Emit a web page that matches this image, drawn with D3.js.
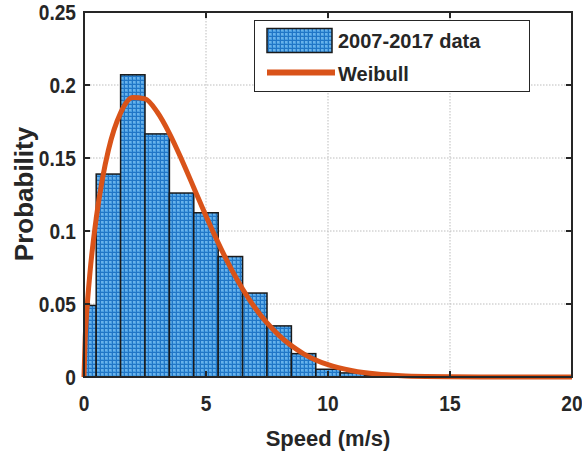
<!DOCTYPE html>
<html><head><meta charset="utf-8">
<script src="https://cdn.jsdelivr.net/npm/d3@7"></script>
<style>body{margin:0;background:#fff}svg{display:block}text{font-family:"Liberation Sans",Arial,sans-serif;font-weight:bold;fill:#262626}</style>
</head><body>
<svg id="c" width="582" height="457"></svg>
<script>
// histogram: bin centers (m/s) and probabilities
const binCenters = [0,1,2,3,4,5,6,7,8,9,10,11,12,13,14,15];
const binProb = [0.049,0.139,0.207,0.1665,0.126,0.1125,0.0825,0.0575,0.035,0.016,0.0053,0.0028,0.001,0.0004,0.0002,0.0001];
// Weibull curve points
const curveX = [0,0.05,0.1,0.25,0.5,0.75,1,1.5,2,2.5,3,3.5,4,4.5,5,5.5,6,6.5,7,7.5,8,9,10,11,12,13,14,15,17,20];
const curveY = [0,0.027,0.0414,0.0724,0.1086,0.1353,0.1554,0.1809,0.1914,0.1905,0.1815,0.1669,0.149,0.1297,0.1103,0.0919,0.0751,0.0603,0.0476,0.037,0.0283,0.0159,0.0084,0.0043,0.002,0.0009,0.0004,0.0002,0.00003,0];
const xTicks = [0,5,10,15,20];
const yTicks = [0,0.05,0.1,0.15,0.2,0.25];
const yTickLabels = ["0","0.05","0.1","0.15","0.2","0.25"];
const legendLabels = ["2007-2017 data","Weibull"];

const svg = d3.select("#c");
const L=84, R=572, T=12, B=377;
const x = d3.scaleLinear().domain([0,20]).range([L,R]);
const y = d3.scaleLinear().domain([0,0.25]).range([B,T]);

const defs = svg.append("defs");
defs.append("clipPath").attr("id","clip").append("rect").attr("x",L).attr("y",T).attr("width",R-L).attr("height",B-T);
const pat = defs.append("pattern").attr("id","hatch").attr("patternUnits","userSpaceOnUse").attr("width",4).attr("height",4);
pat.append("rect").attr("width",4).attr("height",4).attr("fill","#4a9fe2");
pat.append("rect").attr("x",1).attr("y",1).attr("width",2).attr("height",2).attr("fill","#6ab2ea");
pat.append("rect").attr("width",4).attr("height",1).attr("fill","#2176c6");
pat.append("rect").attr("width",1).attr("height",4).attr("fill","#2176c6");

// grid
const grid = svg.append("g").attr("stroke","#bdbdbd").attr("stroke-width",1).attr("stroke-dasharray","1.5,1.5");
xTicks.slice(1,-1).forEach(v=>grid.append("line").attr("x1",x(v)).attr("x2",x(v)).attr("y1",T).attr("y2",B));
yTicks.slice(1,-1).forEach(v=>grid.append("line").attr("x1",L).attr("x2",R).attr("y1",y(v)).attr("y2",y(v)));

// bars
const g = svg.append("g").attr("clip-path","url(#clip)");
g.selectAll("rect.bar").data(binCenters.map((c,i)=>({c,p:binProb[i]}))).enter().append("rect")
  .attr("class","bar")
  .attr("x",d=>x(d.c-0.5)).attr("width",d=>x(d.c+0.5)-x(d.c-0.5))
  .attr("y",d=>y(d.p)).attr("height",d=>y(0)-y(d.p))
  .attr("fill","url(#hatch)").attr("stroke","#1a1a1a").attr("stroke-width",1.5);

// curve
const line = d3.line().x(d=>x(d[0])).y(d=>y(d[1])).curve(d3.curveMonotoneX);
svg.append("path").datum(curveX.map((v,i)=>[v,curveY[i]])).attr("d",line)
  .attr("fill","none").attr("stroke","#d95319").attr("stroke-width",5).attr("stroke-linejoin","round");

// axes frame and ticks
const ax = svg.append("g").attr("stroke","#262626");
ax.append("rect").attr("x",L).attr("y",T).attr("width",R-L).attr("height",B-T).attr("fill","none").attr("stroke-width",2);
const tl=6;
xTicks.forEach(v=>{
  ax.append("line").attr("x1",x(v)).attr("x2",x(v)).attr("y1",B).attr("y2",B-tl).attr("stroke-width",2);
  ax.append("line").attr("x1",x(v)).attr("x2",x(v)).attr("y1",T).attr("y2",T+tl).attr("stroke-width",2);
});
yTicks.forEach(v=>{
  ax.append("line").attr("x1",L).attr("x2",L+tl).attr("y1",y(v)).attr("y2",y(v)).attr("stroke-width",2);
  ax.append("line").attr("x1",R).attr("x2",R-tl).attr("y1",y(v)).attr("y2",y(v)).attr("stroke-width",2);
});
// tick labels (slightly condensed as in the reference)
svg.selectAll("text.xt").data(xTicks).enter().append("text").attr("class","xt")
  .attr("transform",d=>`translate(${x(d)},411) scale(0.87,1)`).attr("text-anchor","middle").attr("font-size",22).text(d=>d);
svg.selectAll("text.yt").data(yTicks).enter().append("text").attr("class","yt")
  .attr("transform",d=>`translate(76,${y(d)+8}) scale(0.87,1)`).attr("text-anchor","end").attr("font-size",22).text((d,i)=>yTickLabels[i]);
// axis titles
svg.append("text").attr("x",(L+R)/2).attr("y",446).attr("text-anchor","middle").attr("font-size",22).text("Speed (m/s)");
svg.append("text").attr("transform","translate(33,194) rotate(-90)").attr("text-anchor","middle").attr("font-size",26).text("Probability");

// legend
const lg = svg.append("g");
lg.append("rect").attr("x",254.5).attr("y",20.5).attr("width",275).attr("height",71).attr("fill","#fff").attr("stroke","#262626").attr("stroke-width",1);
lg.append("rect").attr("x",267).attr("y",28.5).attr("width",65).attr("height",24).attr("fill","url(#hatch)").attr("stroke","#1a1a1a").attr("stroke-width",1.5);
lg.append("line").attr("x1",267).attr("x2",335).attr("y1",72.5).attr("y2",72.5).attr("stroke","#d95319").attr("stroke-width",6);
lg.append("text").attr("x",338).attr("y",48).attr("font-size",20).text(legendLabels[0]);
lg.append("text").attr("x",338).attr("y",81).attr("font-size",20).text(legendLabels[1]);
</script>
</body></html>
